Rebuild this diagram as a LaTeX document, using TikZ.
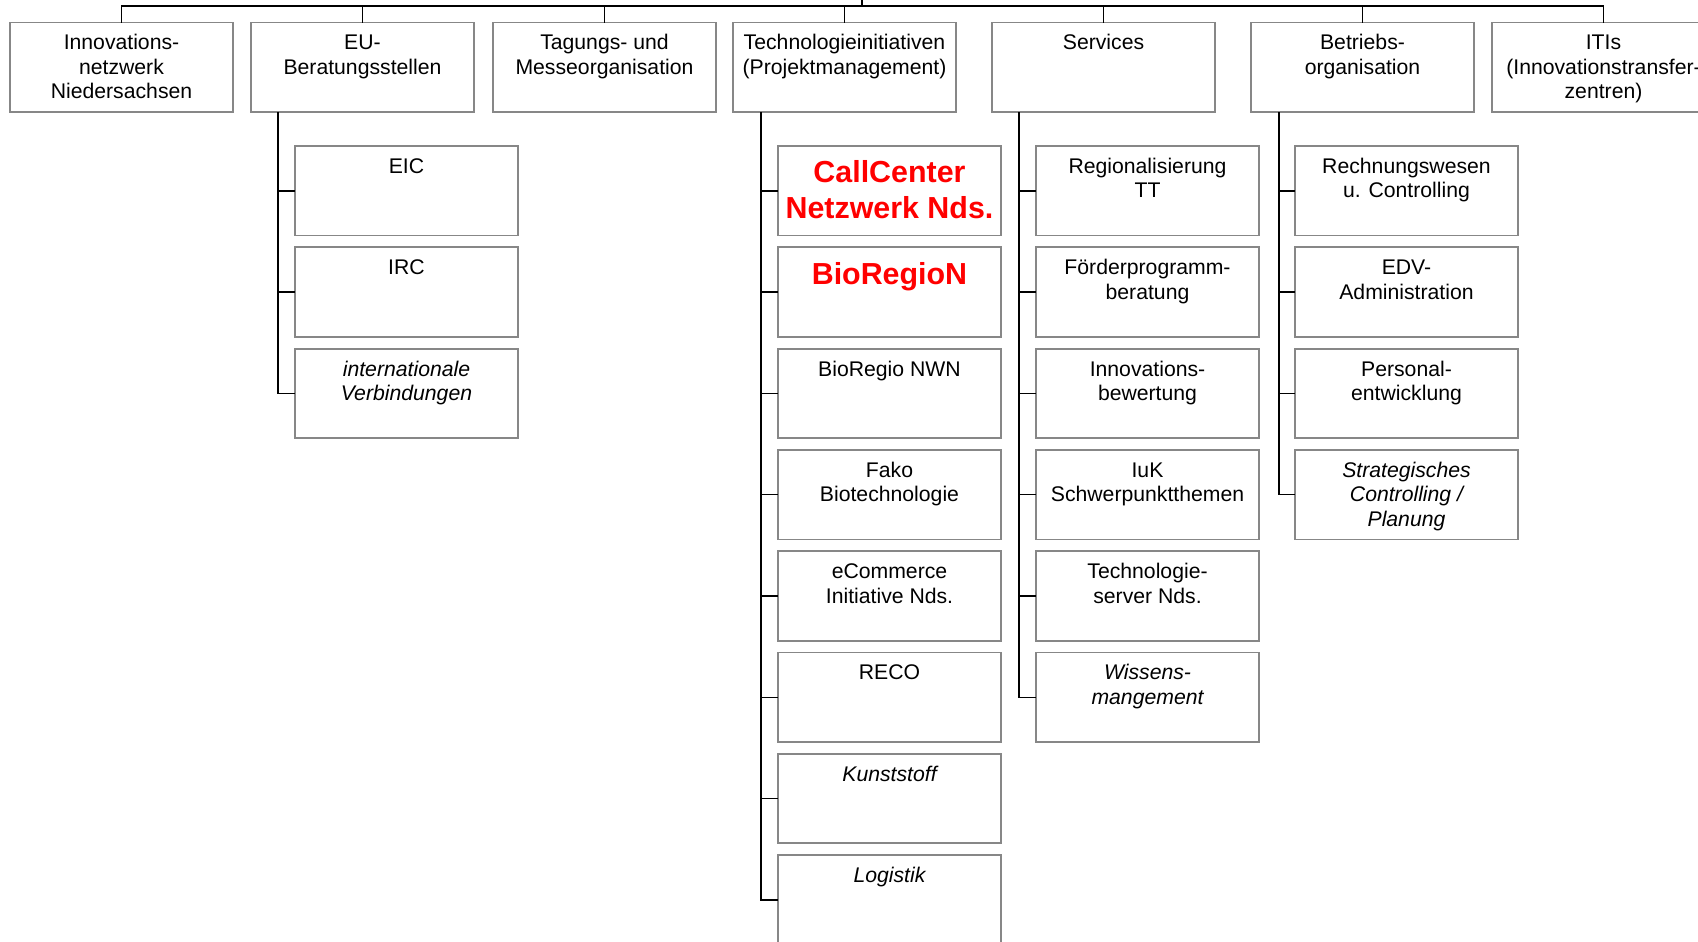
\documentclass[tikz,border=0pt]{standalone}
\usepackage{fontspec}
\setmainfont{Liberation Sans}
\newcommand\ob[5][]{\node[box] (#2) at (#3,#4) {};\node[txt,#1] (#2-t) at (#2.north) {\rule{0pt}{8pt}#5};}
\newcommand\rb[4]{\node[box] (#1) at (#2,#3) {};\node[rtxt] (#1-t) at (#1.north) {\rule{0pt}{12pt}#4};}
\begin{document}
\begin{tikzpicture}[x=0.5pt,y=-0.5pt,
 box/.style={draw={rgb,255:red,135;green,135;blue,135}, line width=0.9pt, minimum width=111.5pt, minimum height=44.75pt, inner sep=0pt, outer sep=0pt, anchor=north west},
 txt/.style={anchor=north, align=center, inner sep=0pt, font=\fontsize{10.6}{12.25}\selectfont, yshift=-5.5pt},
 it/.style={font=\fontsize{10.6}{12.25}\selectfont\itshape},
 rtxt/.style={anchor=north, align=center, inner sep=0pt, font=\fontsize{15.2}{17.6}\selectfont\bfseries, text=red, yshift=-6.2pt},
 conn/.style={draw=black, line width=0.75pt}]
\useasboundingbox (0,0) rectangle (1698,942);
% top level
\ob{inn}{10}{22.5}{Innovations-\\netzwerk\\Niedersachsen}
\ob{eu}{251}{22.5}{EU-\\Beratungsstellen}
\ob{tag}{493}{22.5}{Tagungs- und\\Messeorganisation}
\ob{tech}{733}{22.5}{Technologieinitiativen\\(Projektmanagement)}
\ob{serv}{992}{22.5}{Services}
\ob{betr}{1251}{22.5}{Betriebs-\\organisation}
\ob{iti}{1492}{22.5}{ITIs\\(Innovationstransfer-\\zentren)}
% EU children
\ob{eic}{295}{146}{EIC}
\ob{irc}{295}{247.3}{IRC}
\ob[it]{intv}{295}{348.6}{internationale\\Verbindungen}
% Tech children
\rb{call}{778}{146}{CallCenter\\Netzwerk Nds.}
\rb{bion}{778}{247.3}{BioRegioN}
\ob{nwn}{778}{348.6}{BioRegio NWN}
\ob{fako}{778}{449.9}{Fako\\Biotechnologie}
\ob{ecom}{778}{551.2}{eCommerce\\Initiative Nds.}
\ob{reco}{778}{652.5}{RECO}
\ob[it]{kunst}{778}{753.8}{Kunststoff}
\ob[it]{logi}{778}{855.1}{Logistik}
% Services children
\ob{reg}{1036}{146}{Regionalisierung\\TT}
\ob{foe}{1036}{247.3}{Förderprogramm-\\beratung}
\ob{ibew}{1036}{348.6}{Innovations-\\bewertung}
\ob{iuk}{1036}{449.9}{IuK\\Schwerpunktthemen}
\ob{tsrv}{1036}{551.2}{Technologie-\\server Nds.}
\ob[it]{wiss}{1036}{652.5}{Wissens-\\mangement}
% Betrieb children
\ob{rech}{1295}{146}{Rechnungswesen\\u. Controlling}
\ob{edv}{1295}{247.3}{EDV-\\Administration}
\ob{pers}{1295}{348.6}{Personal-\\entwicklung}
\ob[it]{strat}{1295}{449.9}{Strategisches\\Controlling /\\Planung}
% top connectors
\coordinate (top) at (862,6);
\coordinate (topend) at (862,0);
\draw[conn] (inn.north) |- (top) -| (iti.north);
\draw[conn] (top) -- (topend);
\foreach \b in {eu,tag,tech,serv,betr} \draw[conn] (\b.north) -- (\b.north |- top);
% spines
\coordinate (eus) at ([xshift=13.5pt]eu.south west);
\coordinate (techs) at ([xshift=14pt]tech.south west);
\coordinate (servs) at ([xshift=13.5pt]serv.south west);
\coordinate (betrs) at ([xshift=14pt]betr.south west);
\foreach \c in {eic,irc,intv} \draw[conn] (eus) |- (\c.west);
\foreach \c in {call,bion,nwn,fako,ecom,reco,kunst,logi} \draw[conn] (techs) |- (\c.west);
\foreach \c in {reg,foe,ibew,iuk,tsrv,wiss} \draw[conn] (servs) |- (\c.west);
\foreach \c in {rech,edv,pers,strat} \draw[conn] (betrs) |- (\c.west);
\end{tikzpicture}
\end{document}
